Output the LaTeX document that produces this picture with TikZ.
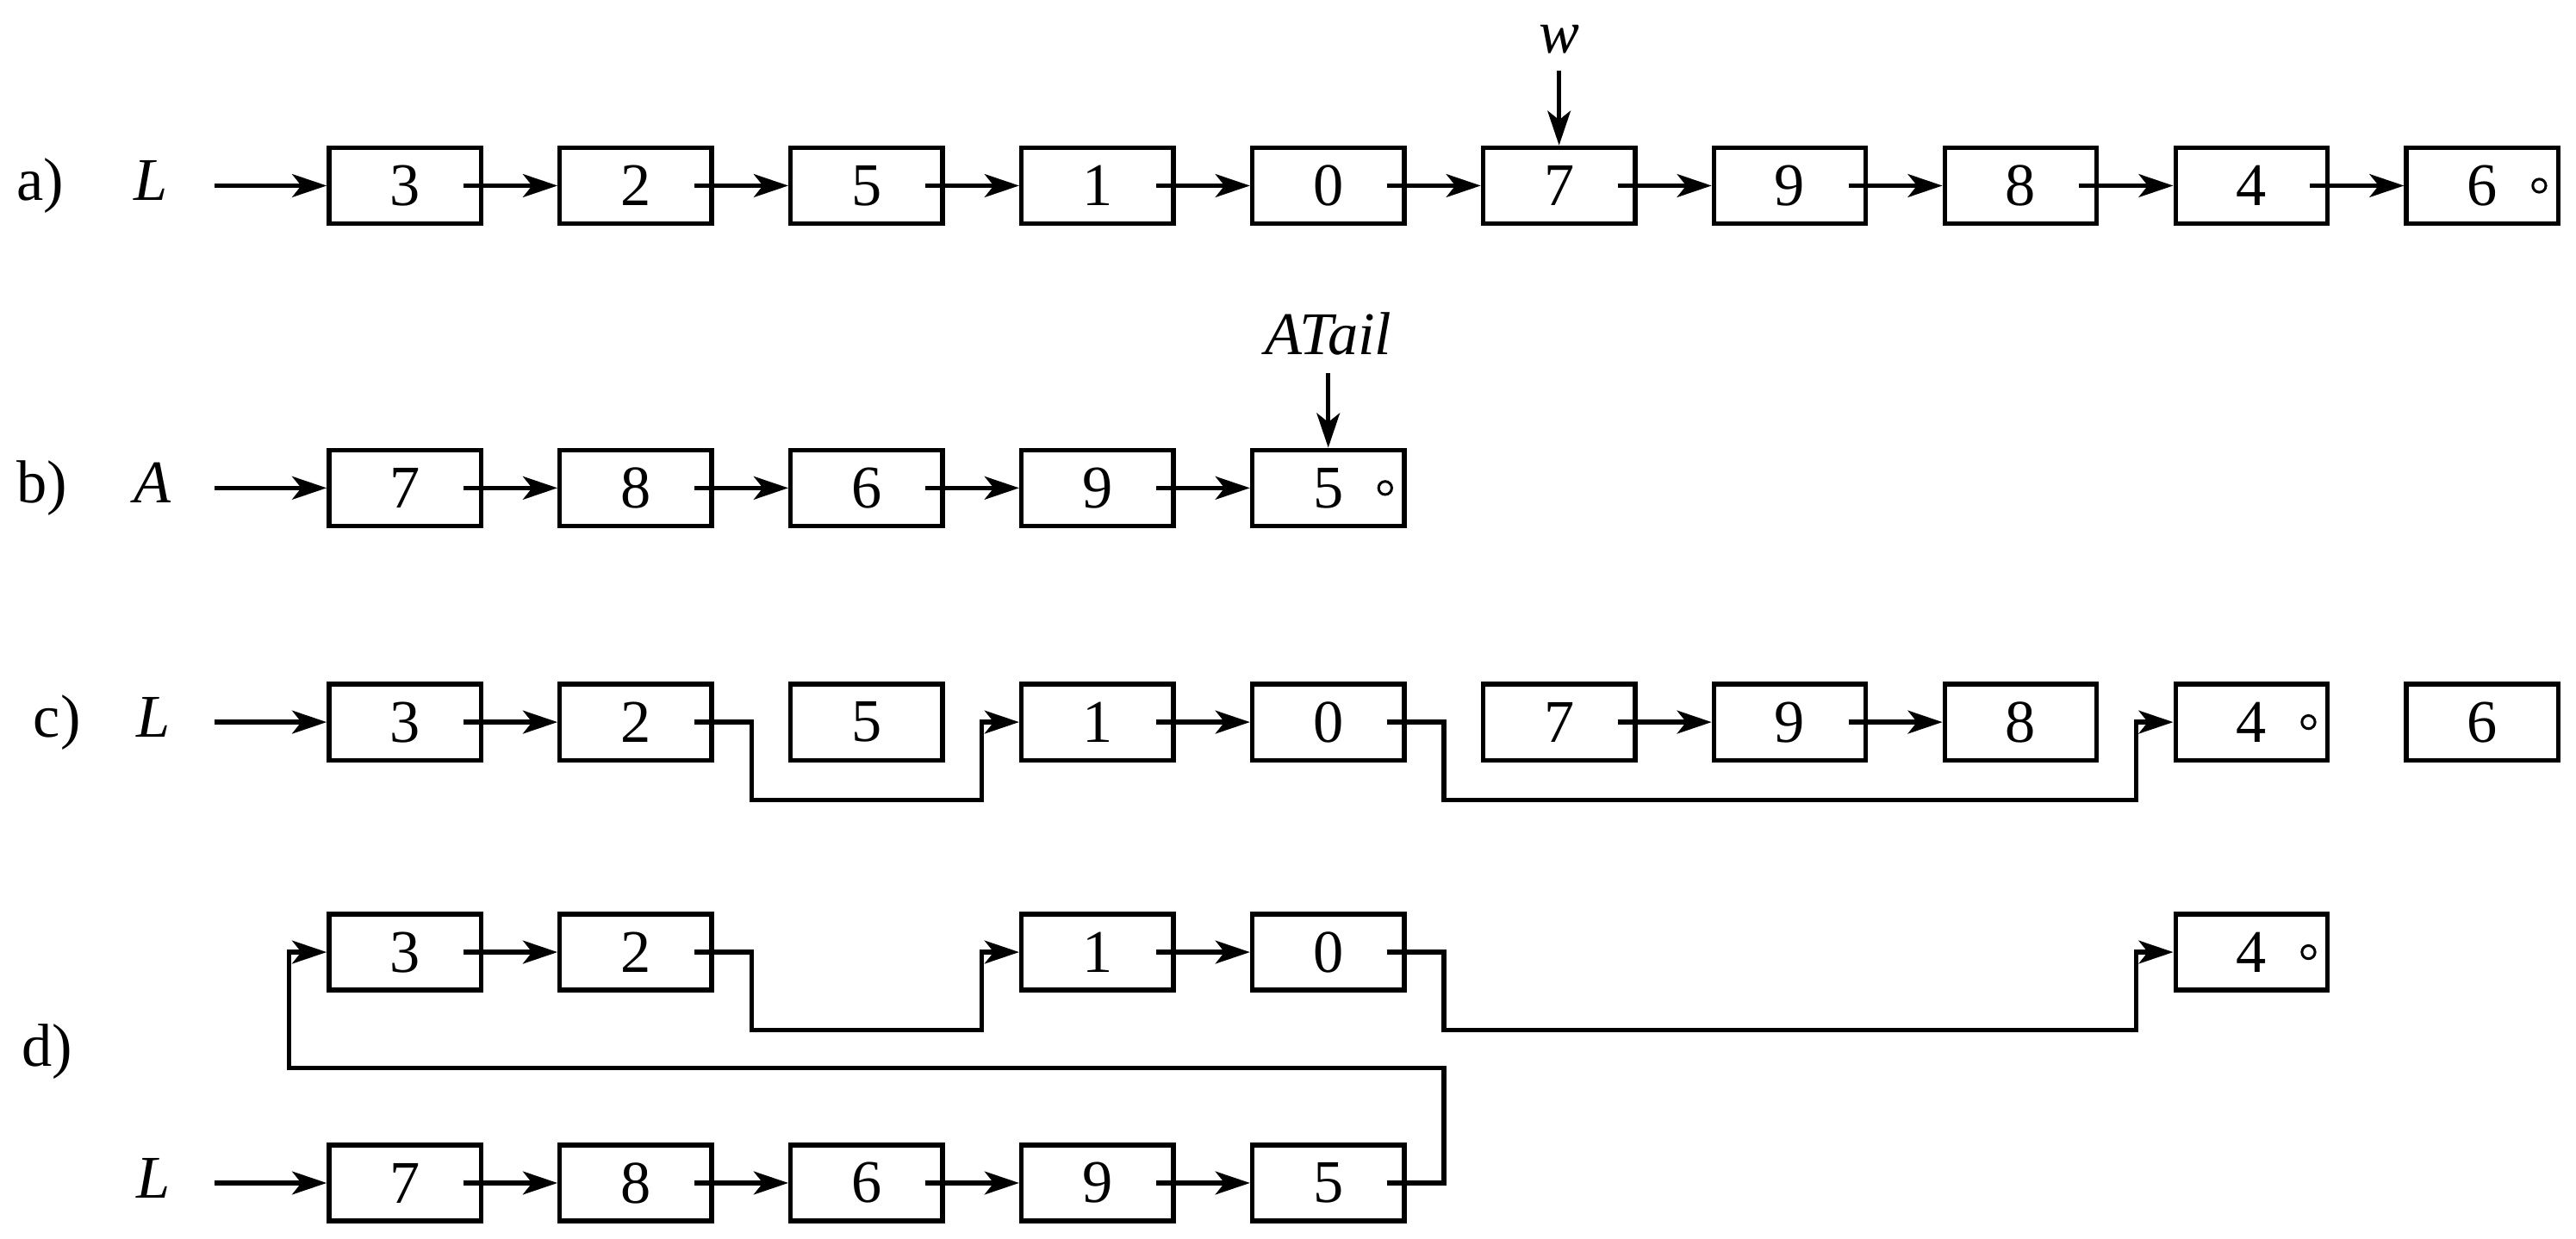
\documentclass[tikz,border=0pt]{standalone}
\usepackage{fontspec}
\setmainfont{Liberation Serif}
\usetikzlibrary{arrows.meta,calc}
\begin{document}
\begin{tikzpicture}[x=0.02cm,y=-0.02cm,
  box/.style={draw,line width=1.6pt,minimum width=1.85cm,minimum height=0.925cm,inner sep=0pt,font=\fontsize{21}{25}\selectfont},
  lbl/.style={anchor=base west,inner sep=0pt,font=\fontsize{21}{25}\selectfont},
  ilbl/.style={anchor=base west,inner sep=0pt,font=\fontsize{21}{25}\selectfont\itshape},
  nil/.style={circle,draw,line width=0.9pt,minimum size=0.16cm,inner sep=0pt},
  conn/.style={line width=1.6pt},
  arr/.style={conn,-{Stealth[length=0.42cm,width=0.28cm,inset=0.11cm]}},
]
\useasboundingbox (0,0) rectangle (1568,754);

% ---------- a) ----------
\node[lbl] (la) at (10,122) {a)};
\node[ilbl] (La) at (81,122) {L};
\foreach \d [count=\k from 0] in {3,2,5,1,0,7,9,8,4,6}
  \node[box] (a\k) at ({246.5+140.5*\k},113) {\d};
\node[nil] (a9n) at ($(a9.east)+(-13,0)$) {};
\coordinate (La0) at (130.5,113);
\draw[arr] (La0) -- (a0.west);
\foreach \i/\j in {0/1,1/2,2/3,3/4,4/5,5/6,6/7,7/8,8/9}
  \draw[arr] ($(a\i.east)+(-12,0)$) -- (a\j.west);
\node[ilbl,anchor=base] (w) at (949,32.5) {w};
\coordinate (w0) at (949,43);
\draw[arr] (w0) -- (a5.north);

% ---------- b) ----------
\node[lbl] (lb) at (10,306) {b)};
\node[ilbl] (Ab) at (81,306) {A};
\foreach \d [count=\k from 0] in {7,8,6,9,5}
  \node[box] (b\k) at ({246.5+140.5*\k},297) {\d};
\node[nil] (b4n) at ($(b4.east)+(-13,0)$) {};
\coordinate (Ab0) at (130.5,297);
\draw[arr] (Ab0) -- (b0.west);
\foreach \i/\j in {0/1,1/2,2/3,3/4}
  \draw[arr] ($(b\i.east)+(-12,0)$) -- (b\j.west);
\node[ilbl,anchor=base] (at) at (808.5,216) {ATail};
\coordinate (at0) at (808.5,227);
\draw[arr] (at0) -- (b4.north);

% ---------- c) ----------
\node[lbl] (lc) at (20,448.5) {c)};
\node[ilbl] (Lc) at (83,448.5) {L};
\foreach \d [count=\k from 0] in {3,2,5,1,0,7,9,8,4,6}
  \node[box] (c\k) at ({246.5+140.5*\k},439.5) {\d};
\node[nil] (c8n) at ($(c8.east)+(-13,0)$) {};
\coordinate (Lc0) at (130.5,439.5);
\draw[arr] (Lc0) -- (c0.west);
\foreach \i/\j in {0/1,3/4,5/6,6/7}
  \draw[arr] ($(c\i.east)+(-12,0)$) -- (c\j.west);
\draw[arr] ($(c1.east)+(-12,0)$) -- ($(c1.east)+(22.75,0)$) |- ($(c3.west)+(-22.75,47.5)$) -- ($(c3.west)+(-22.75,0)$) -- (c3.west);
\draw[arr] ($(c4.east)+(-12,0)$) -- ($(c4.east)+(22.75,0)$) |- ($(c8.west)+(-22.75,47.5)$) -- ($(c8.west)+(-22.75,0)$) -- (c8.west);

% ---------- d) ----------
\node[lbl] (ld) at (13,649) {d)};
\node[box] (dt0) at (246.5,579.5) {3};
\node[box] (dt1) at (387,579.5) {2};
\node[box] (dt3) at (668,579.5) {1};
\node[box] (dt4) at (808.5,579.5) {0};
\node[box] (dt8) at (1370.5,579.5) {4};
\node[nil] (dt8n) at ($(dt8.east)+(-13,0)$) {};
\draw[arr] ($(dt0.east)+(-12,0)$) -- (dt1.west);
\draw[arr] ($(dt3.east)+(-12,0)$) -- (dt4.west);
\draw[arr] ($(dt1.east)+(-12,0)$) -- ($(dt1.east)+(22.75,0)$) |- ($(dt3.west)+(-22.75,47.5)$) -- ($(dt3.west)+(-22.75,0)$) -- (dt3.west);
\draw[arr] ($(dt4.east)+(-12,0)$) -- ($(dt4.east)+(22.75,0)$) |- ($(dt8.west)+(-22.75,47.5)$) -- ($(dt8.west)+(-22.75,0)$) -- (dt8.west);

\node[ilbl] (Ld) at (83,729) {L};
\foreach \d [count=\k from 0] in {7,8,6,9,5}
  \node[box] (db\k) at ({246.5+140.5*\k},720) {\d};
\coordinate (Ld0) at (130.5,720);
\draw[arr] (Ld0) -- (db0.west);
\foreach \i/\j in {0/1,1/2,2/3,3/4}
  \draw[arr] ($(db\i.east)+(-12,0)$) -- (db\j.west);
\draw[arr] ($(db4.east)+(-12,0)$) -- ($(db4.east)+(22.75,0)$) -- ($(db4.east)+(22.75,-70)$) -| ($(dt0.west)+(-22.75,0)$) -- (dt0.west);
\end{tikzpicture}
\end{document}
